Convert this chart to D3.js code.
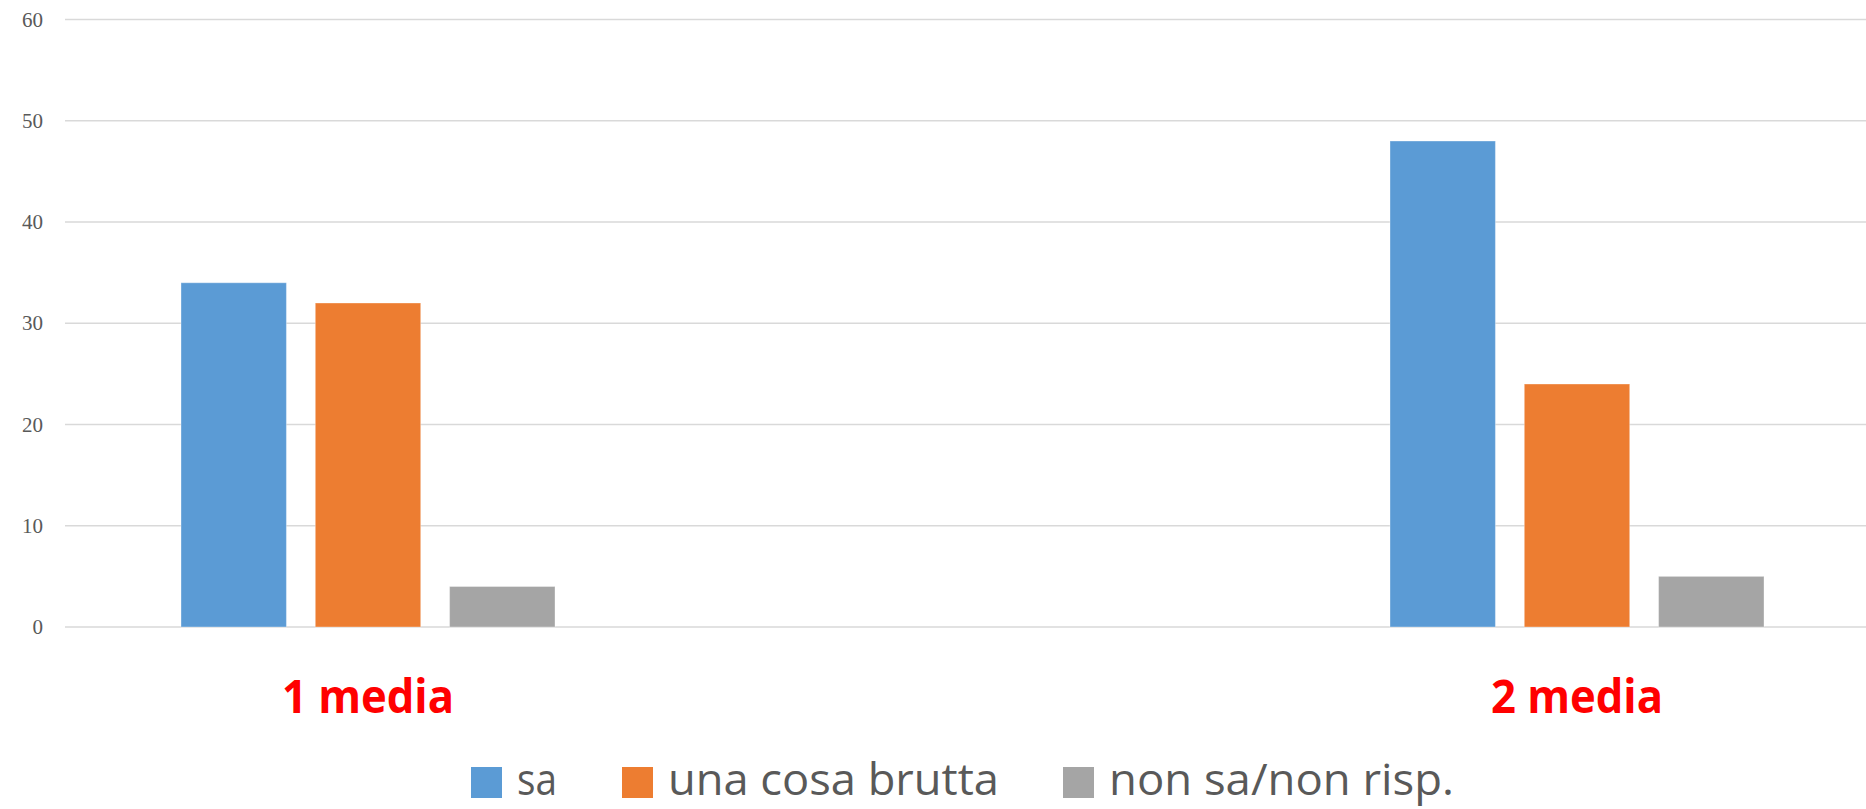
<!DOCTYPE html>
<html>
<head>
<meta charset="utf-8">
<script src="https://cdn.jsdelivr.net/npm/d3@7"></script>
<style>
  html, body { margin: 0; padding: 0; background: #fff; }
  svg { display: block; }
</style>
</head>
<body>
<svg id="chart" width="1866" height="809"></svg>
<script>
const categories = ["1 media", "2 media"];
const seriesNames = ["sa", "una cosa brutta", "non sa/non risp."];
const seriesColors = ["#5B9BD5", "#ED7D31", "#A5A5A5"];
const valuesSa = [34, 48];
const valuesBrutta = [32, 24];
const valuesNonSa = [4, 5];
const yTicks = [0, 10, 20, 30, 40, 50, 60];

const seriesValues = [valuesSa, valuesBrutta, valuesNonSa];

const svg = d3.select("#chart");

const y = d3.scaleLinear().domain([0, 60]).range([627, 19.5]);
const x0 = d3.scalePoint().domain(categories).range([368, 1577]);
const x1 = d3.scaleBand().domain(seriesNames).range([-187, 187]).paddingInner(0.215).paddingOuter(0);

// gridlines
svg.append("g")
  .selectAll("line")
  .data(yTicks)
  .join("line")
  .attr("x1", 65).attr("x2", 1866)
  .attr("y1", d => y(d)).attr("y2", d => y(d))
  .attr("stroke", "#d9d9d9")
  .attr("stroke-width", 1.4);

// y axis labels
const yAxis = d3.axisLeft(y).tickValues(yTicks).tickSize(0).tickPadding(0);
const gy = svg.append("g").attr("transform", "translate(43,0)").call(yAxis);
gy.select(".domain").remove();
gy.selectAll("text")
  .attr("font-family", "'Liberation Serif', 'DejaVu Serif', serif")
  .attr("font-size", 21)
  .attr("fill", "#595959");

// bars
const rows = [];
categories.forEach((c, ci) => {
  seriesNames.forEach((s, si) => {
    rows.push({ cat: c, series: s, value: seriesValues[si][ci], color: seriesColors[si] });
  });
});

svg.append("g")
  .selectAll("rect")
  .data(rows)
  .join("rect")
  .attr("x", d => x0(d.cat) + x1(d.series))
  .attr("width", x1.bandwidth())
  .attr("y", d => y(d.value))
  .attr("height", d => y(0) - y(d.value))
  .attr("fill", d => d.color)
  .attr("stroke", "rgba(255,255,255,0.35)")
  .attr("stroke-width", 1);

// category labels
svg.append("g")
  .selectAll("text")
  .data(categories)
  .join("text")
  .attr("x", d => x0(d))
  .attr("y", 713)
  .attr("text-anchor", "middle")
  .attr("font-family", "'Open Sans', 'Liberation Sans', sans-serif")
  .attr("font-weight", "bold")
  .attr("font-size", 47)
  .attr("fill", "#FF0000")
  .attr("textLength", 172)
  .attr("lengthAdjust", "spacingAndGlyphs")
  .text(d => d);

// legend
const legendX = [471, 622, 1063];
const legendTextLen = [40, 331, 345];
const lg = svg.append("g")
  .selectAll("g")
  .data(seriesNames)
  .join("g")
  .attr("transform", (d, i) => `translate(${legendX[i]},0)`);
lg.append("rect")
  .attr("x", 0).attr("y", 767)
  .attr("width", 31).attr("height", 31)
  .attr("fill", (d, i) => seriesColors[i]);
lg.append("text")
  .attr("x", 46).attr("y", 795)
  .attr("font-family", "'Open Sans', sans-serif")
  .attr("font-size", 44)
  .attr("fill", "#595959")
  .attr("textLength", (d, i) => legendTextLen[i])
  .attr("lengthAdjust", "spacingAndGlyphs")
  .text(d => d);
</script>
</body>
</html>
